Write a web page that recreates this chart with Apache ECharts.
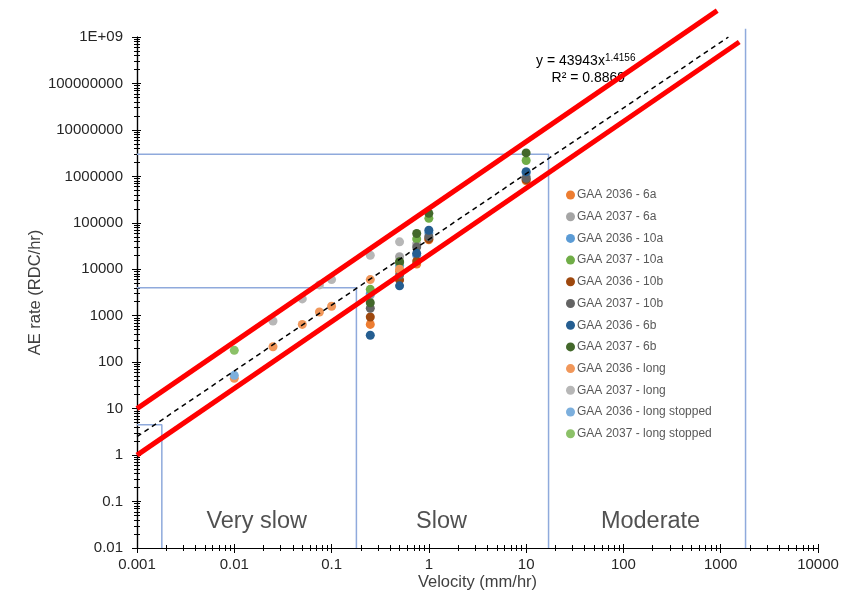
<!DOCTYPE html>
<html>
<head>
<meta charset="utf-8">
<script src="https://cdn.jsdelivr.net/npm/echarts@6/dist/echarts.min.js"></script>
<style>
html, body { margin: 0; padding: 0; background: #fff; }
#chart { width: 845px; height: 600px; }
</style>
</head>
<body>
<div id="chart"></div>
<script>
// 系列名称 / 颜色
var seriesNames = ['GAA 2036 - 6a', 'GAA 2037 - 6a', 'GAA 2036 - 10a', 'GAA 2037 - 10a',
    'GAA 2036 - 10b', 'GAA 2037 - 10b', 'GAA 2036 - 6b', 'GAA 2037 - 6b',
    'GAA 2036 - long', 'GAA 2037 - long', 'GAA 2036 - long stopped', 'GAA 2037 - long stopped'];
var seriesColors = ['#ED7D31', '#A5A5A5', '#5B9BD5', '#70AD47',
    '#9E480E', '#636363', '#255E91', '#43682B',
    '#F1975A', '#B7B7B7', '#7CAFDD', '#8CC168'];

// [velocity mm/hr, AE rate RDC/hr]
var gaa2036_6a = [[0.25, 650], [0.5, 9000], [0.75, 13000], [1, 43000], [10, 800000]];
var gaa2037_6a = [[0.25, 2800], [0.5, 18600], [0.75, 35000], [1, 50000], [10, 1000000]];
var gaa2036_10a = [[0.25, 3000], [0.5, 12000], [0.75, 20000], [1, 60000], [10, 1200000]];
var gaa2037_10a = [[0.25, 3700], [0.5, 14000], [0.75, 45000], [1, 125000], [10, 2200000]];
var gaa2036_10b = [[0.25, 940], [0.5, 5900], [0.75, 15000], [1, 45000], [10, 850000]];
var gaa2037_10b = [[0.25, 1450], [0.5, 7500], [0.75, 30000], [1, 50000], [10, 910000]];
var gaa2036_6b = [[0.25, 380], [0.5, 4400], [0.75, 22000], [1, 69000], [10, 1260000]];
var gaa2037_6b = [[0.25, 1900], [0.5, 14500], [0.75, 59000], [1, 160000], [10, 3200000]];
var gaa2036_long = [[0.01, 45], [0.025, 215], [0.05, 650], [0.075, 1200], [0.1, 1600], [0.25, 6000], [0.5, 10000]];
var gaa2037_long = [[0.025, 770], [0.05, 2300], [0.075, 4600], [0.1, 6000], [0.25, 20000], [0.5, 39000]];
var gaa2036_longStopped = [[0.01, 52]];
var gaa2037_longStopped = [[0.01, 180]];

var allData = [gaa2036_6a, gaa2037_6a, gaa2036_10a, gaa2037_10a, gaa2036_10b, gaa2037_10b,
    gaa2036_6b, gaa2037_6b, gaa2036_long, gaa2037_long, gaa2036_longStopped, gaa2037_longStopped];

// 趋势线 与 上下包络线
var trendLine = [[0.001, 2.49], [1200, 1e9]];
var upperBound = [[0.001, 10], [920, 3.7e9]];
var lowerBound = [[0.001, 1], [1550, 7.8e8]];

// 速度分级参考线
var refLines = [
    [[0.001, 4.5], [0.0018, 4.5], [0.0018, 0.01]],
    [[0.001, 4000], [0.18, 4000], [0.18, 0.01]],
    [[0.001, 3e6], [17, 3e6], [17, 0.01]],
    [[1800, 1.5e9], [1800, 0.01]]
];

// 区域文字
var zoneLabels = [['Very slow', 0.017, 0.038], ['Slow', 1.35, 0.038], ['Moderate', 190, 0.038]];

var xTicks = ['0.001', '0.01', '0.1', '1', '10', '100', '1000', '10000'];
var yTicks = ['0.01', '0.1', '1', '10', '100', '1000', '10000', '100000', '1000000', '10000000', '100000000', '1E+09'];

function fmt(list, firstExp) {
    return function (v) {
        var e = Math.round(Math.log(v) / Math.LN10);
        var s = list[e - firstExp];
        return s !== undefined ? s : '';
    };
}

var series = [];
for (var i = 0; i < refLines.length; i++) {
    series.push({
        type: 'line', data: refLines[i], symbol: 'none', clip: false, silent: true, z: 1,
        lineStyle: { color: '#8FAADC', width: 1.5 }
    });
}
for (var k = 0; k < allData.length; k++) {
    series.push({
        name: seriesNames[k], type: 'scatter', data: allData[k], symbolSize: 9, z: 3,
        itemStyle: { color: seriesColors[k], opacity: 1 }
    });
}
series.push({
    type: 'line', data: trendLine, symbol: 'none', silent: true, z: 4,
    lineStyle: { color: '#000', width: 1.5, type: [5, 4] }
});
series.push({
    type: 'line', data: upperBound, symbol: 'none', clip: false, silent: true, z: 5,
    lineStyle: { color: '#FF0000', width: 5 }
});
series.push({
    type: 'line', data: lowerBound, symbol: 'none', clip: false, silent: true, z: 5,
    lineStyle: { color: '#FF0000', width: 5 }
});
series.push({
    type: 'scatter', silent: true, z: 2, symbolSize: 2,
    itemStyle: { color: 'rgba(0,0,0,0)' },
    data: zoneLabels.map(function (z) { return { value: [z[1], z[2]], name: z[0] }; }),
    label: {
        show: true, position: 'inside', formatter: '{b}',
        fontFamily: 'Liberation Sans', fontSize: 23.5, color: '#262626'
    }
});

// 坐标轴: 主轴(外刻度+标签) + 叠加轴(内刻度), 模拟交叉刻度
function makeAxis(isX, inside) {
    var ax = {
        type: 'log', logBase: 10, interval: 1,
        position: isX ? 'bottom' : 'left', offset: 0,
        min: isX ? 0.001 : 0.01, max: isX ? 10000 : 1e9,
        axisLine: { show: true, onZero: false, lineStyle: { color: '#000', width: 1.2 } },
        axisTick: { show: true, inside: inside, length: inside ? 4 : 5, lineStyle: { color: '#000' } },
        minorTick: { show: true, splitNumber: 9, length: 3, lineStyle: { color: '#000' } },
        splitLine: { show: false },
        axisLabel: { show: !inside, fontSize: 15, color: '#262626', margin: isX ? 9 : 14,
            formatter: isX ? fmt(xTicks, -3) : fmt(yTicks, -2) }
    };
    if (!inside) {
        ax.name = isX ? 'Velocity (mm/hr)' : 'AE rate (RDC/hr)';
        ax.nameLocation = 'middle';
        ax.nameMoveOverlap = false;
        ax.nameGap = isX ? 26 : 93;
        ax.nameTextStyle = { fontSize: 16.5, color: '#404040' };
    }
    return ax;
}

var chart = echarts.init(document.getElementById('chart'));
chart.setOption({
    backgroundColor: '#fff',
    animation: false,
    textStyle: { fontFamily: 'Liberation Sans' },
    grid: { left: 137, right: 27, top: 37, bottom: 52 },
    legend: {
        orient: 'vertical', left: 566, top: 189, padding: 0,
        itemWidth: 9, itemHeight: 9, itemGap: 9.7, icon: 'circle',
        data: seriesNames,
        textStyle: { fontSize: 12, color: '#595959', padding: [0, 0, 0, -3] }
    },
    graphic: [{
        type: 'text', left: 536, top: 53, z: 1,
        style: {
            text: '{a|y = 43943x}{s|1.4156}\n{b|    R² = 0.8869}',
            rich: {
                a: { fontSize: 14, color: '#404040', fontFamily: 'Liberation Sans', lineHeight: 17 },
                s: { fontSize: 10, color: '#404040', fontFamily: 'Liberation Sans', verticalAlign: 'top', lineHeight: 17, padding: [0, 0, 8, 0] },
                b: { fontSize: 14, color: '#404040', fontFamily: 'Liberation Sans', lineHeight: 17 }
            }
        }
    }],
    xAxis: [makeAxis(true, false), makeAxis(true, true)],
    yAxis: [makeAxis(false, false), makeAxis(false, true)],
    series: series
});
</script>
</body>
</html>
